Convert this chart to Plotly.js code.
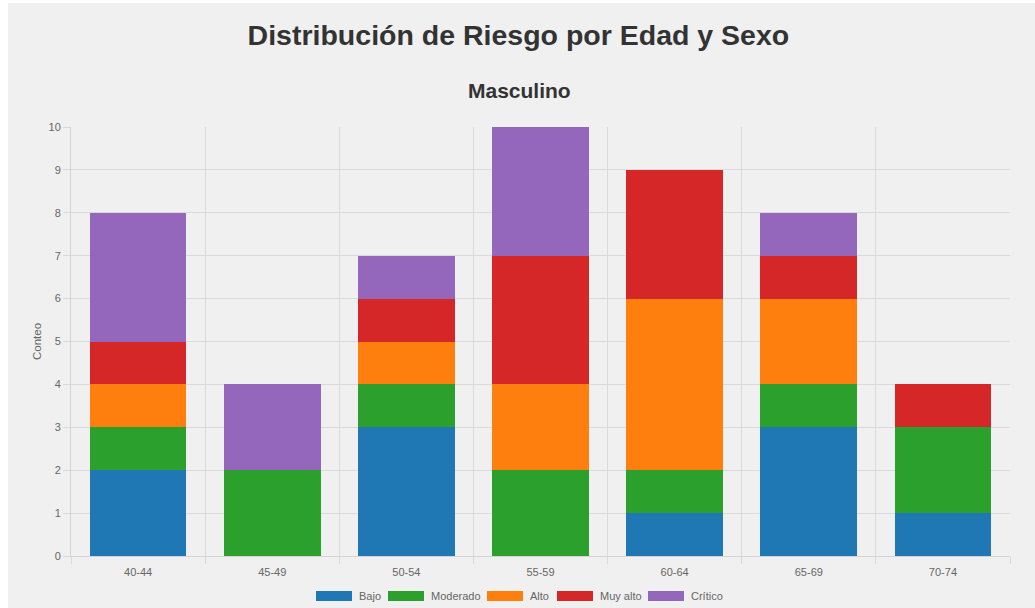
<!DOCTYPE html>
<html>
<head>
<meta charset="utf-8">
<script src="https://cdn.plot.ly/plotly-3.0.1.min.js"></script>
<style>
  html, body { margin: 0; padding: 0; background: #ffffff; }
  #chart { position: absolute; left: 8px; top: 3px; width: 1027px; height: 605px; background: #f0f0f0; }
</style>
</head>
<body>
<div id="chart"></div>
<script>
// ---- data ----
const ageGroups = ["40-44", "45-49", "50-54", "55-59", "60-64", "65-69", "70-74"];
const riskLevels = ["Bajo", "Moderado", "Alto", "Muy alto", "Crítico"];
const bajo     = [2, 0, 3, 0, 1, 3, 1];
const moderado = [1, 2, 1, 2, 1, 1, 2];
const alto     = [1, 0, 1, 2, 4, 2, 0];
const muyAlto  = [1, 0, 1, 3, 3, 1, 1];
const critico  = [3, 2, 1, 3, 0, 1, 0];
const riskColors = ["#1f77b4", "#2ca02c", "#ff7f0e", "#d62728", "#9467bd"];
const chartTitle = "Distribución de Riesgo por Edad y Sexo";
const subTitle = "Masculino";
const yTitle = "Conteo";

const seriesValues = [bajo, moderado, alto, muyAlto, critico];

const FONT = '"Liberation Sans", Arial, Helvetica, sans-serif';
const W = 1027, H = 605;
const M = { l: 63, r: 25, t: 124, b: 52 };
const plotW = W - M.l - M.r, plotH = H - M.t - M.b;

const traces = riskLevels.map((name, i) => ({
  type: 'bar',
  name: name,
  x: ageGroups,
  y: seriesValues[i],
  marker: { color: riskColors[i] },
  hoverinfo: 'x+y+name',
  showlegend: false
}));

// custom legend (wide colour boxes like the reference)
const legendBoxX = [308, 380, 479, 549, 640]; // px within div
const shapes = [];
const annotations = [];
const pxToPaperX = px => (px - M.l) / plotW;
const pxToPaperY = py => (H - M.b - py) / plotH;
riskLevels.forEach((name, i) => {
  const x0 = legendBoxX[i];
  shapes.push({
    type: 'rect', xref: 'paper', yref: 'paper',
    x0: pxToPaperX(x0), x1: pxToPaperX(x0 + 36),
    y0: pxToPaperY(598), y1: pxToPaperY(588),
    fillcolor: riskColors[i], line: { width: 0 }
  });
  annotations.push({
    xref: 'paper', yref: 'paper',
    x: pxToPaperX(x0 + 41), y: pxToPaperY(593),
    xanchor: 'left', yanchor: 'middle',
    text: name, showarrow: false,
    font: { family: FONT, size: 11, color: '#666666' }
  });
});

annotations.push({
  xref: 'paper', yref: 'paper',
  x: pxToPaperX(W / 2 - 2), y: pxToPaperY(88), xanchor: 'center', yanchor: 'middle',
  text: '<b>' + subTitle + '</b>', showarrow: false,
  font: { family: FONT, size: 21, color: '#333333' }
});

const layout = {
  width: W, height: H,
  margin: M,
  paper_bgcolor: '#f0f0f0',
  plot_bgcolor: '#f0f0f0',
  barmode: 'stack',
  bargap: 0.28,
  font: { family: FONT, size: 11, color: '#666666' },
  title: {
    text: '<b>' + chartTitle + '</b>',
    x: 0.497, xanchor: 'center',
    xref: 'container', yref: 'container',
    y: 1 - 32 / H, yanchor: 'middle',
    font: { family: FONT, size: 28.5, color: '#333333' }
  },
  xaxis: {
    type: 'category',
    tickson: 'boundaries',
    showgrid: true, gridcolor: '#dadada', gridwidth: 1,
    ticks: 'outside', ticklen: 7, tickcolor: '#dadada',
    ticklabelstandoff: 6,
    showline: true, linecolor: '#d4d4d4', linewidth: 1,
    tickfont: { family: FONT, size: 11, color: '#666666' },
    fixedrange: true
  },
  yaxis: {
    range: [0, 10],
    dtick: 1,
    showgrid: true, gridcolor: '#dadada', gridwidth: 1,
    zeroline: false,
    ticks: 'outside', ticklen: 7, tickcolor: '#dadada',
    showline: true, linecolor: '#d4d4d4', linewidth: 1,
    tickfont: { family: FONT, size: 11, color: '#666666' },
    title: { text: yTitle, standoff: 4, font: { family: FONT, size: 11.5, color: '#666666' } },
    fixedrange: true
  },
  shapes: shapes,
  annotations: annotations,
  showlegend: false
};

Plotly.newPlot('chart', traces, layout, { displayModeBar: false, staticPlot: false });
</script>
</body>
</html>
